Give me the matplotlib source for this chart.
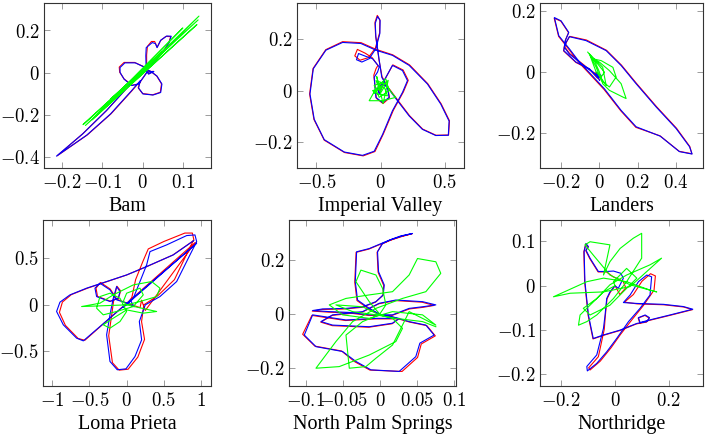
import numpy as np
import matplotlib
matplotlib.use('Agg')
import matplotlib.pyplot as plt

plt.rcParams['font.family'] = ['Liberation Serif', 'DejaVu Serif']
plt.rcParams['mathtext.fontset'] = 'cm'

# ---- Bam
bam_blue_x = [0, -0.014, -0.039, -0.090, -0.149, -0.214, -0.139, -0.080, -0.029, -0.006, -0.010, 0.001, 0.026, 0.045, 0.048, 0.036, 0.021, 0.009, 0.003, -0.018, -0.044, -0.056, -0.056, -0.046, -0.027, -0.010, 0.003, 0.011, 0.028, 0.015, 0.009, 0.008, 0.009, 0.024, 0.032, 0.036, 0.045, 0.060, 0.071, 0.066, 0.053, 0.032, 0.011, 0]
bam_blue_y = [0, -0.014, -0.072, -0.179, -0.289, -0.394, -0.295, -0.195, -0.088, -0.038, -0.072, -0.100, -0.105, -0.093, -0.053, -0.016, 0.006, 0.016, 0.028, 0.047, 0.047, 0.025, 0.002, -0.030, -0.060, -0.053, -0.019, 0.003, 0.006, -0.006, 0.009, 0.080, 0.119, 0.143, 0.138, 0.119, 0.154, 0.174, 0.173, 0.143, 0.104, 0.056, 0.017, 0]
bam_red_x = [0, -0.013, -0.038, -0.089, -0.148, -0.212, -0.137, -0.078, -0.027, -0.005, -0.011, 0.000, 0.025, 0.044, 0.047, 0.035, 0.020, 0.008, 0.002, -0.020, -0.046, -0.058, -0.057, -0.046, -0.026, -0.009, 0.003, 0.011, 0.027, 0.015, 0.010, 0.010, 0.012, 0.022, 0.030, 0.036, 0.045, 0.058, 0.070, 0.065, 0.052, 0.032, 0.011, 0]
bam_red_y = [0, -0.013, -0.070, -0.177, -0.287, -0.392, -0.293, -0.193, -0.086, -0.037, -0.071, -0.098, -0.104, -0.092, -0.052, -0.015, 0.007, 0.017, 0.030, 0.049, 0.049, 0.027, 0.003, -0.029, -0.059, -0.052, -0.018, 0.004, 0.007, -0.005, 0.010, 0.085, 0.125, 0.148, 0.148, 0.121, 0.153, 0.172, 0.171, 0.142, 0.103, 0.055, 0.016, 0]
bam_green_x = [0, 0.140, -0.142, 0.135, -0.125, 0.100, -0.100, 0.138, -0.148, 0.070, -0.080, 0.050, -0.030, 0.020, 0]
bam_green_y = [0, 0.268, -0.249, 0.228, -0.222, 0.212, -0.170, 0.250, -0.245, 0.135, -0.125, 0.100, -0.050, 0.045, 0]

# ---- Imperial Valley
iv_blue_x = [0, 0.028, 0.093, 0.171, 0.210, 0.171, 0.093, 0.016, -0.049, -0.140, -0.282, -0.438, -0.516, -0.549, -0.523, -0.425, -0.295, -0.153, -0.036, 0.093, 0.223, 0.365, 0.469, 0.534, 0.528, 0.430, 0.326, 0.223, 0.132, 0.054, 0.010, -0.010, -0.036, -0.041, -0.023, -0.003, -0.005, -0.036, -0.088, -0.145, -0.187, -0.171, -0.114, -0.062, -0.010, -0.023, -0.049, -0.036, 0.016, 0.067, 0.054, 0.016, -0.023, -0.010, 0]
iv_blue_y = [0, 0.039, 0.098, 0.078, 0.039, -0.007, -0.078, -0.170, -0.235, -0.251, -0.238, -0.190, -0.111, -0.013, 0.085, 0.157, 0.187, 0.183, 0.157, 0.137, 0.098, 0.026, -0.052, -0.118, -0.173, -0.174, -0.150, -0.098, -0.039, 0.013, 0.052, 0.118, 0.209, 0.261, 0.288, 0.272, 0.222, 0.163, 0.124, 0.111, 0.120, 0.144, 0.133, 0.124, 0.092, 0.072, 0.052, -0.026, -0.046, -0.026, 0.013, 0.026, 0.007, -0.013, 0]
iv_red_x = [0, 0.030, 0.096, 0.176, 0.216, 0.178, 0.100, 0.022, -0.043, -0.135, -0.280, -0.438, -0.518, -0.552, -0.525, -0.426, -0.295, -0.151, -0.034, 0.095, 0.226, 0.368, 0.472, 0.537, 0.530, 0.432, 0.328, 0.226, 0.136, 0.058, 0.012, -0.012, -0.038, -0.043, -0.025, -0.005, -0.007, -0.040, -0.095, -0.160, -0.200, -0.180, -0.118, -0.065, -0.020, -0.035, -0.052, -0.032, 0.020, 0.070, 0.056, 0.018, -0.022, -0.008, 0]
iv_red_y = [0, 0.040, 0.100, 0.080, 0.040, -0.005, -0.076, -0.168, -0.236, -0.253, -0.240, -0.192, -0.112, -0.013, 0.086, 0.159, 0.190, 0.186, 0.160, 0.139, 0.100, 0.027, -0.051, -0.117, -0.172, -0.173, -0.149, -0.097, -0.038, 0.014, 0.054, 0.120, 0.212, 0.265, 0.292, 0.275, 0.224, 0.165, 0.128, 0.118, 0.135, 0.160, 0.145, 0.128, 0.098, 0.085, 0.060, -0.030, -0.050, -0.028, 0.014, 0.027, 0.008, -0.012, 0]
iv_green_x = [0, -0.036, 0.041, 0.093, 0.119, 0.016, -0.088, -0.036, 0.041, 0.067, -0.010, -0.049, 0.016, 0.054, -0.023, -0.062, 0.028, 0.003, -0.030, 0.020, 0.060, -0.050, 0.010, 0]
iv_green_y = [0, 0.039, 0.026, -0.013, -0.026, -0.039, -0.039, 0.007, 0.046, 0.000, -0.026, 0.020, 0.033, -0.020, -0.013, 0.000, 0.013, -0.007, 0.055, -0.050, 0.040, -0.010, 0.020, 0]

# ---- Landers
la_blue_x = [0, -0.070, -0.157, -0.183, -0.174, -0.157, -0.070, 0.035, 0.113, 0.191, 0.296, 0.400, 0.470, 0.483, 0.417, 0.317, 0.191, 0.113, 0.026, -0.043, -0.104, -0.157, -0.212, -0.235, -0.200, -0.160, -0.177, -0.186, -0.122, -0.052, -0.009, 0.009, -0.017, 0]
la_blue_y = [-0.016, 0.016, 0.060, 0.082, 0.098, 0.117, 0.104, 0.071, 0.022, -0.038, -0.115, -0.186, -0.246, -0.270, -0.262, -0.211, -0.180, -0.126, -0.055, -0.008, 0.033, 0.077, 0.120, 0.180, 0.169, 0.131, 0.106, 0.071, 0.033, 0.011, -0.019, -0.011, 0, -0.027]
la_red_x = [0, -0.068, -0.155, -0.181, -0.172, -0.155, -0.068, 0.037, 0.115, 0.193, 0.298, 0.402, 0.471, 0.482, 0.416, 0.316, 0.190, 0.112, 0.024, -0.045, -0.106, -0.159, -0.213, -0.236, -0.201, -0.161, -0.178, -0.187, -0.123, -0.053, -0.010, 0.008, -0.018, 0]
la_red_y = [-0.015, 0.017, 0.061, 0.083, 0.099, 0.118, 0.106, 0.072, 0.023, -0.037, -0.114, -0.185, -0.245, -0.269, -0.261, -0.210, -0.182, -0.128, -0.057, -0.010, 0.031, 0.075, 0.118, 0.178, 0.168, 0.130, 0.105, 0.070, 0.032, 0.010, -0.020, -0.012, -0.001, -0.026]
la_green_x = [-0.061, -0.026, 0, 0.017, 0.052, 0.122, 0.139, 0.113, 0.052, 0, -0.035, 0.009, 0.070, 0.087, 0.052, 0.009, -0.017, -0.043, -0.009, 0.026, 0.009, -0.017, -0.052, 0.017, 0.035, 0]
la_green_y = [0.066, 0.038, 0, -0.038, -0.060, -0.082, -0.087, -0.038, 0.005, 0.033, 0.044, 0.038, 0.016, -0.016, -0.049, -0.027, 0.016, 0.049, 0.027, 0, -0.016, 0, 0.060, 0.016, -0.044, -0.011]

# ---- Loma Prieta
lp_blue_x = [0, 0.089, 0.179, 0.268, 0.313, 0.536, 0.804, 0.915, 0.938, 0.826, 0.670, 0.446, 0.250, 0.170, 0.201, 0.112, -0.009, -0.125, -0.223, -0.268, -0.223, -0.179, -0.134, -0.089, -0.112, -0.223, -0.402, -0.424, -0.357, -0.223, -0.134, 0, 0.100, 0.050, -0.050, 0.938, -0.580, -0.670, -0.848, -0.938, -0.893, -0.759, -0.536, -0.268, 0, 0.268, 0.625, 0.900]
lp_blue_y = [0, 0.071, 0.250, 0.429, 0.571, 0.643, 0.743, 0.750, 0.679, 0.500, 0.250, 0.089, 0.000, -0.179, -0.375, -0.554, -0.686, -0.696, -0.607, -0.321, -0.107, 0.071, 0.196, 0.143, 0.071, 0.036, 0.089, 0.179, 0.232, 0.161, 0.054, 0.020, -0.020, 0.050, -0.030, 0.661, -0.386, -0.357, -0.214, -0.071, 0.029, 0.107, 0.179, 0.250, 0.321, 0.411, 0.536, 0.690]
lp_red_x = [0, 0.070, 0.120, 0.220, 0.290, 0.500, 0.780, 0.880, 0.900, 0.790, 0.640, 0.420, 0.230, 0.200, 0.240, 0.150, 0.020, -0.100, -0.190, -0.240, -0.200, -0.170, -0.130, -0.080, -0.110, -0.220, -0.390, -0.410, -0.350, -0.220, -0.130, 0, 0.180, 0.200, 0.250, 0.920, -0.560, -0.650, -0.820, -0.900, -0.860, -0.740, -0.520, -0.260, 0, 0.270, 0.620, 0.890]
lp_red_y = [0, 0.080, 0.270, 0.470, 0.600, 0.680, 0.770, 0.770, 0.700, 0.520, 0.270, 0.100, 0.000, -0.180, -0.370, -0.560, -0.690, -0.700, -0.620, -0.330, -0.110, 0.070, 0.200, 0.150, 0.070, 0.040, 0.090, 0.180, 0.240, 0.170, 0.060, 0.020, -0.030, 0.050, -0.060, 0.670, -0.380, -0.360, -0.220, -0.080, 0.030, 0.110, 0.180, 0.250, 0.320, 0.410, 0.535, 0.685]
lp_green_x = [0, -0.603, -0.357, -0.179, 0.089, 0.335, 0.446, 0.402, 0.179, 0, 0.402, 0.223, 0, -0.179, -0.313, -0.223, -0.089, 0, -0.089, -0.223, -0.357, -0.402, -0.313, -0.134, 0.089, 0.223, 0.179, 0, -0.045, 0]
lp_green_y = [0, -0.018, 0.018, 0.107, 0.214, 0.250, 0.179, 0.089, 0.036, 0, -0.071, -0.089, -0.054, -0.143, -0.214, -0.250, -0.179, -0.071, 0.071, 0.125, 0.089, -0.036, -0.107, -0.071, -0.018, 0.107, 0.179, 0.125, 0.036, 0]

# ---- North Palm Springs
nps_blue_x = [0, -0.0144, -0.0302, -0.0333, -0.0315, -0.0144, 0.0126, 0.0306, 0.0441, 0.0284, 0.0162, 0.0036, -0.0032, -0.0018, 0.0059, 0.0045, -0.0054, -0.0234, -0.0459, -0.0775, -0.0910, -0.0685, -0.0414, -0.0144, 0.0171, 0.0396, 0.0577, 0.0757, 0.0577, 0.0216, -0.0009, -0.0234, -0.0640, -0.0797, -0.0640, -0.0144, 0.0171, 0.0261, -0.0054, -0.0459, -0.0910, -0.1023, -0.0865, -0.0505, -0.0324, -0.0122, 0.0261, 0.0486, 0.0541, 0.0734, 0.0622, 0.0396, 0.0171, 0]
nps_blue_y = [0, 0.022, 0.053, 0.121, 0.232, 0.244, 0.275, 0.291, 0.300, 0.291, 0.279, 0.263, 0.232, 0.158, 0.109, 0.072, 0.047, 0.028, 0.022, 0.020, 0.014, 0.010, 0.007, -0.002, -0.002, 0.022, 0.028, 0.035, 0.047, 0.053, 0.041, 0.010, -0.002, -0.027, -0.040, -0.046, -0.033, -0.015, -0.015, -0.021, -0.002, -0.077, -0.120, -0.138, -0.175, -0.206, -0.212, -0.157, -0.107, -0.077, -0.040, -0.027, -0.009, 0]
nps_red_x = [0, -0.0150, -0.0310, -0.0340, -0.0322, -0.0150, 0.0120, 0.0300, 0.0435, 0.0280, 0.0158, 0.0030, -0.0038, -0.0024, 0.0052, 0.0040, -0.0060, -0.0240, -0.0465, -0.0780, -0.0915, -0.0690, -0.0420, -0.0150, 0.0165, 0.0400, 0.0585, 0.0735, 0.0570, 0.0210, -0.0015, -0.0240, -0.0645, -0.0800, -0.0645, -0.0150, 0.0165, 0.0255, -0.0060, -0.0465, -0.0920, -0.1045, -0.0880, -0.0520, -0.0340, -0.0135, 0.0300, 0.0510, 0.0560, 0.0750, 0.0635, 0.0405, 0.0175, 0]
nps_red_y = [0, 0.020, 0.051, 0.119, 0.230, 0.242, 0.273, 0.289, 0.299, 0.289, 0.277, 0.261, 0.230, 0.156, 0.107, 0.070, 0.045, 0.026, 0.020, 0.018, 0.012, 0.008, 0.005, -0.004, -0.004, 0.020, 0.026, 0.033, 0.045, 0.051, 0.039, 0.008, -0.004, -0.029, -0.042, -0.048, -0.035, -0.017, -0.017, -0.023, -0.004, -0.074, -0.118, -0.136, -0.176, -0.207, -0.212, -0.160, -0.110, -0.080, -0.042, -0.029, -0.011, 0]
nps_green_x = [0, -0.0144, -0.0324, -0.0257, -0.0054, 0.0036, 0.0081, -0.0009, -0.0234, -0.0459, -0.0414, -0.0189, -0.0054, 0.0171, 0.0306, 0.0396, 0.0757, 0.0577, 0.0171, -0.0144, -0.0505, -0.0685, -0.0459, -0.0144, 0.0171, 0.0396, 0.0509, 0.0757, 0.0824, 0.0622, 0.0306, -0.0054, -0.0369, -0.0595, -0.0865, -0.0550, -0.0144, 0.0216, 0.0306, 0.0171, -0.0009, -0.0234, -0.0595, -0.0369, -0.0054, 0.0216, 0.0577, 0.0757]
nps_green_y = [0, 0.047, 0.121, 0.164, 0.146, 0.096, 0.035, -0.002, -0.027, -0.077, -0.200, -0.194, -0.163, -0.114, -0.040, 0.010, -0.040, -0.002, 0.010, -0.015, -0.002, 0.035, 0.059, 0.072, 0.084, 0.146, 0.207, 0.195, 0.152, 0.084, 0.059, 0.022, -0.027, -0.101, -0.200, -0.194, -0.151, -0.101, -0.052, -0.015, -0.002, 0.028, 0.035, 0.010, -0.002, -0.015, -0.027, -0.046]

# ---- Northridge
nr_blue_x = [0, -0.019, -0.031, -0.037, -0.043, -0.068, -0.105, -0.103, -0.068, -0.031, 0.006, 0.050, 0.093, 0.130, 0.136, 0.118, 0.087, 0.056, 0.031, 0.081, 0.180, 0.254, 0.289, 0.204, 0.130, 0.093, 0.087, 0.112, 0.128, 0.118, 0.081, 0.019, -0.043, -0.081, -0.099, -0.112, -0.115, -0.108, -0.099, -0.108, -0.093, -0.062, -0.031, -0.006, 0.021, 0.031, 0.012, 0]
nr_blue_y = [0, -0.014, -0.029, -0.066, -0.096, -0.156, -0.182, -0.192, -0.175, -0.149, -0.119, -0.081, -0.051, -0.021, 0.020, 0.024, 0.009, -0.021, -0.038, -0.040, -0.042, -0.047, -0.053, -0.066, -0.077, -0.083, -0.072, -0.066, -0.072, -0.081, -0.085, -0.100, -0.111, -0.119, -0.066, 0.009, 0.077, 0.095, 0.088, 0.080, 0.062, 0.032, 0.032, 0.033, 0.028, 0.017, -0.006, 0]
nr_red_x = [0, -0.018, -0.030, -0.036, -0.040, -0.062, -0.098, -0.093, -0.055, -0.015, 0.020, 0.065, 0.105, 0.145, 0.150, 0.132, 0.100, 0.068, 0.035, 0.082, 0.181, 0.255, 0.288, 0.203, 0.129, 0.092, 0.086, 0.111, 0.127, 0.117, 0.080, 0.018, -0.044, -0.082, -0.100, -0.113, -0.116, -0.109, -0.100, -0.109, -0.094, -0.063, -0.032, -0.007, 0.030, 0.040, 0.018, 0]
nr_red_y = [0, -0.015, -0.030, -0.067, -0.098, -0.160, -0.185, -0.190, -0.170, -0.140, -0.110, -0.075, -0.045, -0.010, 0.022, 0.027, 0.010, -0.020, -0.037, -0.041, -0.043, -0.048, -0.054, -0.067, -0.078, -0.084, -0.073, -0.067, -0.073, -0.082, -0.086, -0.101, -0.112, -0.120, -0.067, 0.008, 0.076, 0.094, 0.087, 0.079, 0.061, 0.031, 0.031, 0.020, 0.010, -0.005, -0.020, 0]
nr_green_x = [0, -0.043, -0.130, -0.136, -0.105, -0.068, -0.006, 0.043, 0.099, 0.099, 0.068, 0.019, -0.019, -0.043, -0.019, -0.093, -0.112, -0.081, -0.019, 0.056, 0.155, 0.130, 0.043, -0.043, -0.105, -0.229, -0.167, -0.043, 0.056, 0.173, 0.130, 0.043, -0.019, -0.068, -0.118, -0.093, -0.019, 0.043, 0.081, 0.043, -0.006, 0]
nr_green_y = [0, -0.014, -0.066, -0.089, -0.081, -0.066, -0.029, 0.009, 0.062, 0.118, 0.107, 0.084, 0.054, 0.024, 0.092, 0.099, 0.092, 0.069, 0.024, 0.002, -0.014, -0.010, 0.009, 0.017, 0.009, -0.025, -0.017, -0.014, -0.002, 0.062, 0.047, 0.024, 0.002, -0.029, -0.051, -0.066, -0.044, -0.006, 0.017, 0.039, 0.009, 0]

names = ['Bam', 'Imperial Valley', 'Landers', 'Loma Prieta', 'North Palm Springs', 'Northridge']
red = [(bam_red_x, bam_red_y), (iv_red_x, iv_red_y), (la_red_x, la_red_y),
       (lp_red_x, lp_red_y), (nps_red_x, nps_red_y), (nr_red_x, nr_red_y)]
blue = [(bam_blue_x, bam_blue_y), (iv_blue_x, iv_blue_y), (la_blue_x, la_blue_y),
        (lp_blue_x, lp_blue_y), (nps_blue_x, nps_blue_y), (nr_blue_x, nr_blue_y)]
green = [(bam_green_x, bam_green_y), (iv_green_x, iv_green_y), (la_green_x, la_green_y),
         (lp_green_x, lp_green_y), (nps_green_x, nps_green_y), (nr_green_x, nr_green_y)]

xlims = [(-0.245, 0.17), (-0.65, 0.65), (-0.31, 0.54), (-1.12, 1.13), (-0.123, 0.103), (-0.279, 0.327)]
ylims = [(-0.45, 0.33), (-0.30, 0.34), (-0.316, 0.228), (-0.87, 0.91), (-0.266, 0.35), (-0.226, 0.148)]
xticks = [[-0.2, -0.1, 0, 0.1], [-0.5, 0, 0.5], [-0.2, 0, 0.2, 0.4], [-1, -0.5, 0, 0.5, 1],
          [-0.1, -0.05, 0, 0.05, 0.1], [-0.2, 0, 0.2]]
yticks = [[-0.4, -0.2, 0, 0.2], [-0.2, 0, 0.2], [-0.2, 0, 0.2], [-0.5, 0, 0.5],
          [-0.2, 0, 0.2], [-0.2, -0.1, 0, 0.1]]

# axes boxes in pixels: left, top, width, height
boxes = [(44, 3, 167, 165), (297, 3, 167, 165), (540, 3, 163, 165),
         (43, 220, 168, 166), (289, 220, 167, 166), (540, 220, 163, 166)]

W, H = 709, 436
fig = plt.figure(figsize=(W / 100, H / 100), dpi=100)


def fmt(v):
    return '$' + ('%g' % v) + '$'


for i in range(6):
    l, t, w, h = boxes[i]
    ax = fig.add_axes([l / W, 1 - (t + h) / H, w / W, h / H])
    ax.plot(red[i][0], red[i][1], color='#ff0000', lw=0.8)
    ax.plot(blue[i][0], blue[i][1], color='#0000ff', lw=0.8)
    ax.plot(green[i][0], green[i][1], color='#00ff00', lw=0.8)
    ax.set_xlim(xlims[i])
    ax.set_ylim(ylims[i])
    ax.set_xticks(xticks[i])
    ax.set_yticks(yticks[i])
    ax.set_xticklabels([fmt(v) for v in xticks[i]])
    ax.set_yticklabels([fmt(v) for v in yticks[i]])
    ax.tick_params(direction='in', length=4, width=0.6, color='#8c8c8c',
                   top=True, right=True, labelsize=13.5)
    ax.tick_params(axis='x', pad=4)
    ax.tick_params(axis='y', pad=3)
    for sp in ax.spines.values():
        sp.set_color('#333333')
        sp.set_linewidth(0.8)
    ax.set_xlabel(names[i], fontsize=14.5, labelpad=4)

fig.savefig('out.png', dpi=100)
